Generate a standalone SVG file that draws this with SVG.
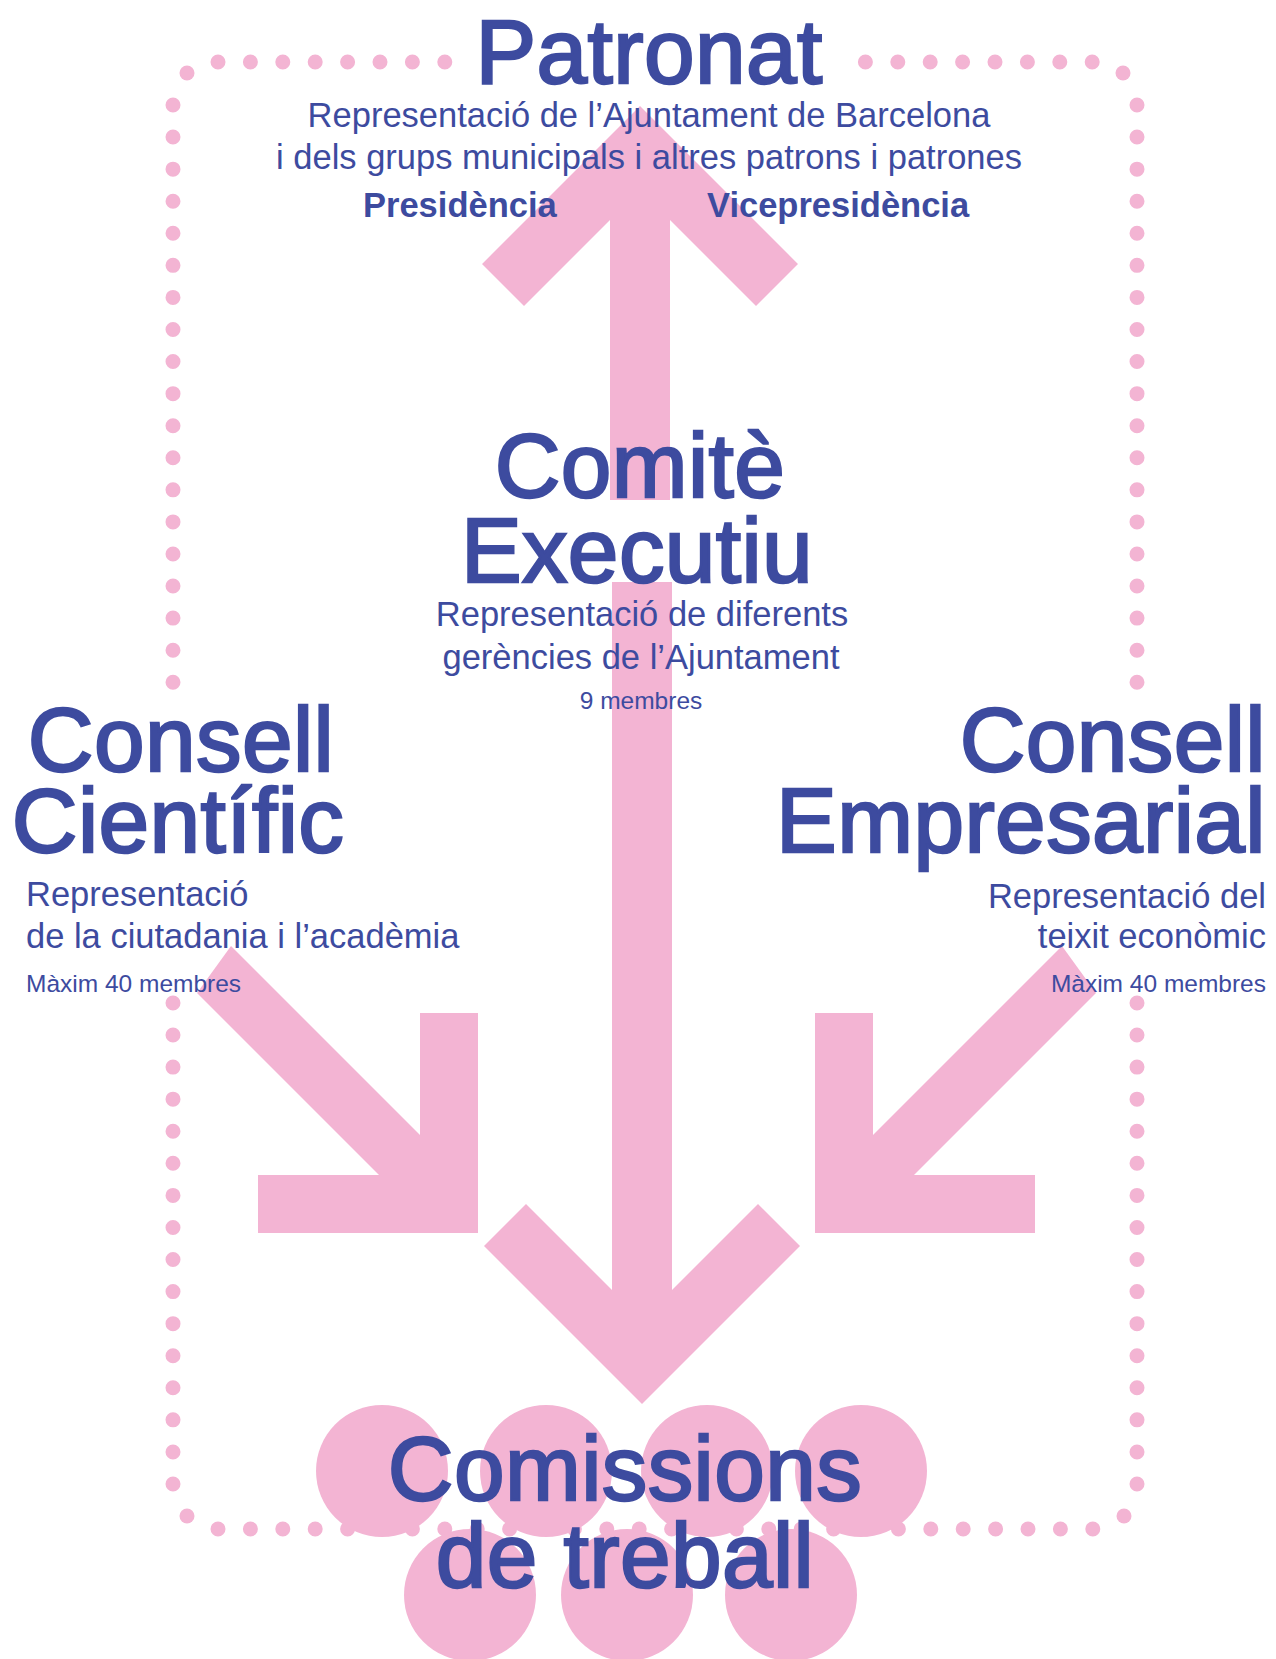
<svg xmlns="http://www.w3.org/2000/svg" width="1276" height="1659" viewBox="0 0 1276 1659">
<style>
.pk{fill:#F3B4D3}
.dl{stroke:#F3B4D3;stroke-width:15;stroke-linecap:round;fill:none}
.dh{stroke-dasharray:0 32.4}
.dv{stroke-dasharray:0 32.07}
text{font-family:"Liberation Sans",Arial,Helvetica,sans-serif;fill:#3D4B9F}
.h{font-size:91px;stroke:#3D4B9F;stroke-width:2.4;letter-spacing:0.4px}
.s{font-size:34.5px}
.b{font-size:34.5px;font-weight:bold}
.m{font-size:24.5px}
.c{text-anchor:middle}
.r{text-anchor:end}
</style>
<rect width="1276" height="1659" fill="#ffffff"/>
<g id="border">
<line class="dl dh" x1="218" y1="62" x2="446" y2="62"/>
<line class="dl dh" x1="865.4" y1="62" x2="1093" y2="62"/>
<line class="dl dh" x1="218" y1="1529" x2="1093" y2="1529"/>
<line class="dl dv" x1="173" y1="105" x2="173" y2="683.5"/>
<line class="dl dv" x1="173" y1="1002.96" x2="173" y2="1485"/>
<line class="dl dv" x1="1137" y1="105" x2="1137" y2="683.5"/>
<line class="dl dv" x1="1137" y1="1002.96" x2="1137" y2="1485"/>
<circle class="pk" cx="187" cy="73" r="7.5"/>
<circle class="pk" cx="1123" cy="73" r="7.5"/>
<circle class="pk" cx="187" cy="1516" r="7.5"/>
<circle class="pk" cx="1124" cy="1516" r="7.5"/>
</g>
<g id="comissions-circles">
<circle class="pk" cx="382" cy="1471" r="66"/>
<circle class="pk" cx="546" cy="1471" r="66"/>
<circle class="pk" cx="707" cy="1471" r="66"/>
<circle class="pk" cx="861" cy="1471" r="66"/>
<circle class="pk" cx="470" cy="1595" r="66"/>
<circle class="pk" cx="627" cy="1595" r="66"/>
<circle class="pk" cx="791" cy="1595" r="66"/>
</g>
<g id="connectors">
<polygon class="pk" points="640,106 798,264 756,306 670,220 670,500 610,500 610,220 524,306 482,264"/>
<polygon class="pk" points="642,1404 800,1246 758,1204 672,1290 672,582 612,582 612,1290 526,1204 484,1246"/>
<g id="arrow-left">
<polygon class="pk" points="231,946 470,1185 470,1225 429,1225 197,993"/>
<rect class="pk" x="420" y="1013" width="58" height="220"/>
<rect class="pk" x="258" y="1175" width="220" height="58"/>
</g>
<g id="arrow-right">
<polygon class="pk" points="1062,946 823,1185 823,1225 864,1225 1096,993"/>
<rect class="pk" x="815" y="1013" width="58" height="220"/>
<rect class="pk" x="815" y="1175" width="220" height="58"/>
</g>
</g>
<g id="patronat">
<text class="h c" x="649" y="83">Patronat</text>
<text class="s c" x="649" y="127">Representació de l’Ajuntament de Barcelona</text>
<text class="s c" x="649" y="169">i dels grups municipals i altres patrons i patrones</text>
<text class="b" x="363" y="217">Presidència</text>
<text class="b" x="707" y="217">Vicepresidència</text>
</g>
<g id="comite-executiu">
<text class="h c" x="640" y="497">Comitè</text>
<text class="h c" x="637" y="582">Executiu</text>
<text class="s c" x="642" y="626">Representació de diferents</text>
<text class="s c" x="641" y="669">gerències de l’Ajuntament</text>
<text class="m c" x="641" y="709">9 membres</text>
</g>
<g id="consell-cientific">
<text class="h c" x="181" y="771">Consell</text>
<text class="h c" x="178" y="852">Científic</text>
<text class="s" x="26" y="906">Representació</text>
<text class="s" x="26" y="948">de la ciutadania i l’acadèmia</text>
<text class="m" x="26" y="992">Màxim 40 membres</text>
</g>
<g id="consell-empresarial">
<text class="h r" x="1266" y="771">Consell</text>
<text class="h r" x="1266" y="852">Empresarial</text>
<text class="s r" x="1266" y="908">Representació del</text>
<text class="s r" x="1266" y="948">teixit econòmic</text>
<text class="m r" x="1266" y="992">Màxim 40 membres</text>
</g>
<g id="comissions">
<text class="h c" x="625" y="1500">Comissions</text>
<text class="h c" x="625" y="1587">de treball</text>
</g>
</svg>
